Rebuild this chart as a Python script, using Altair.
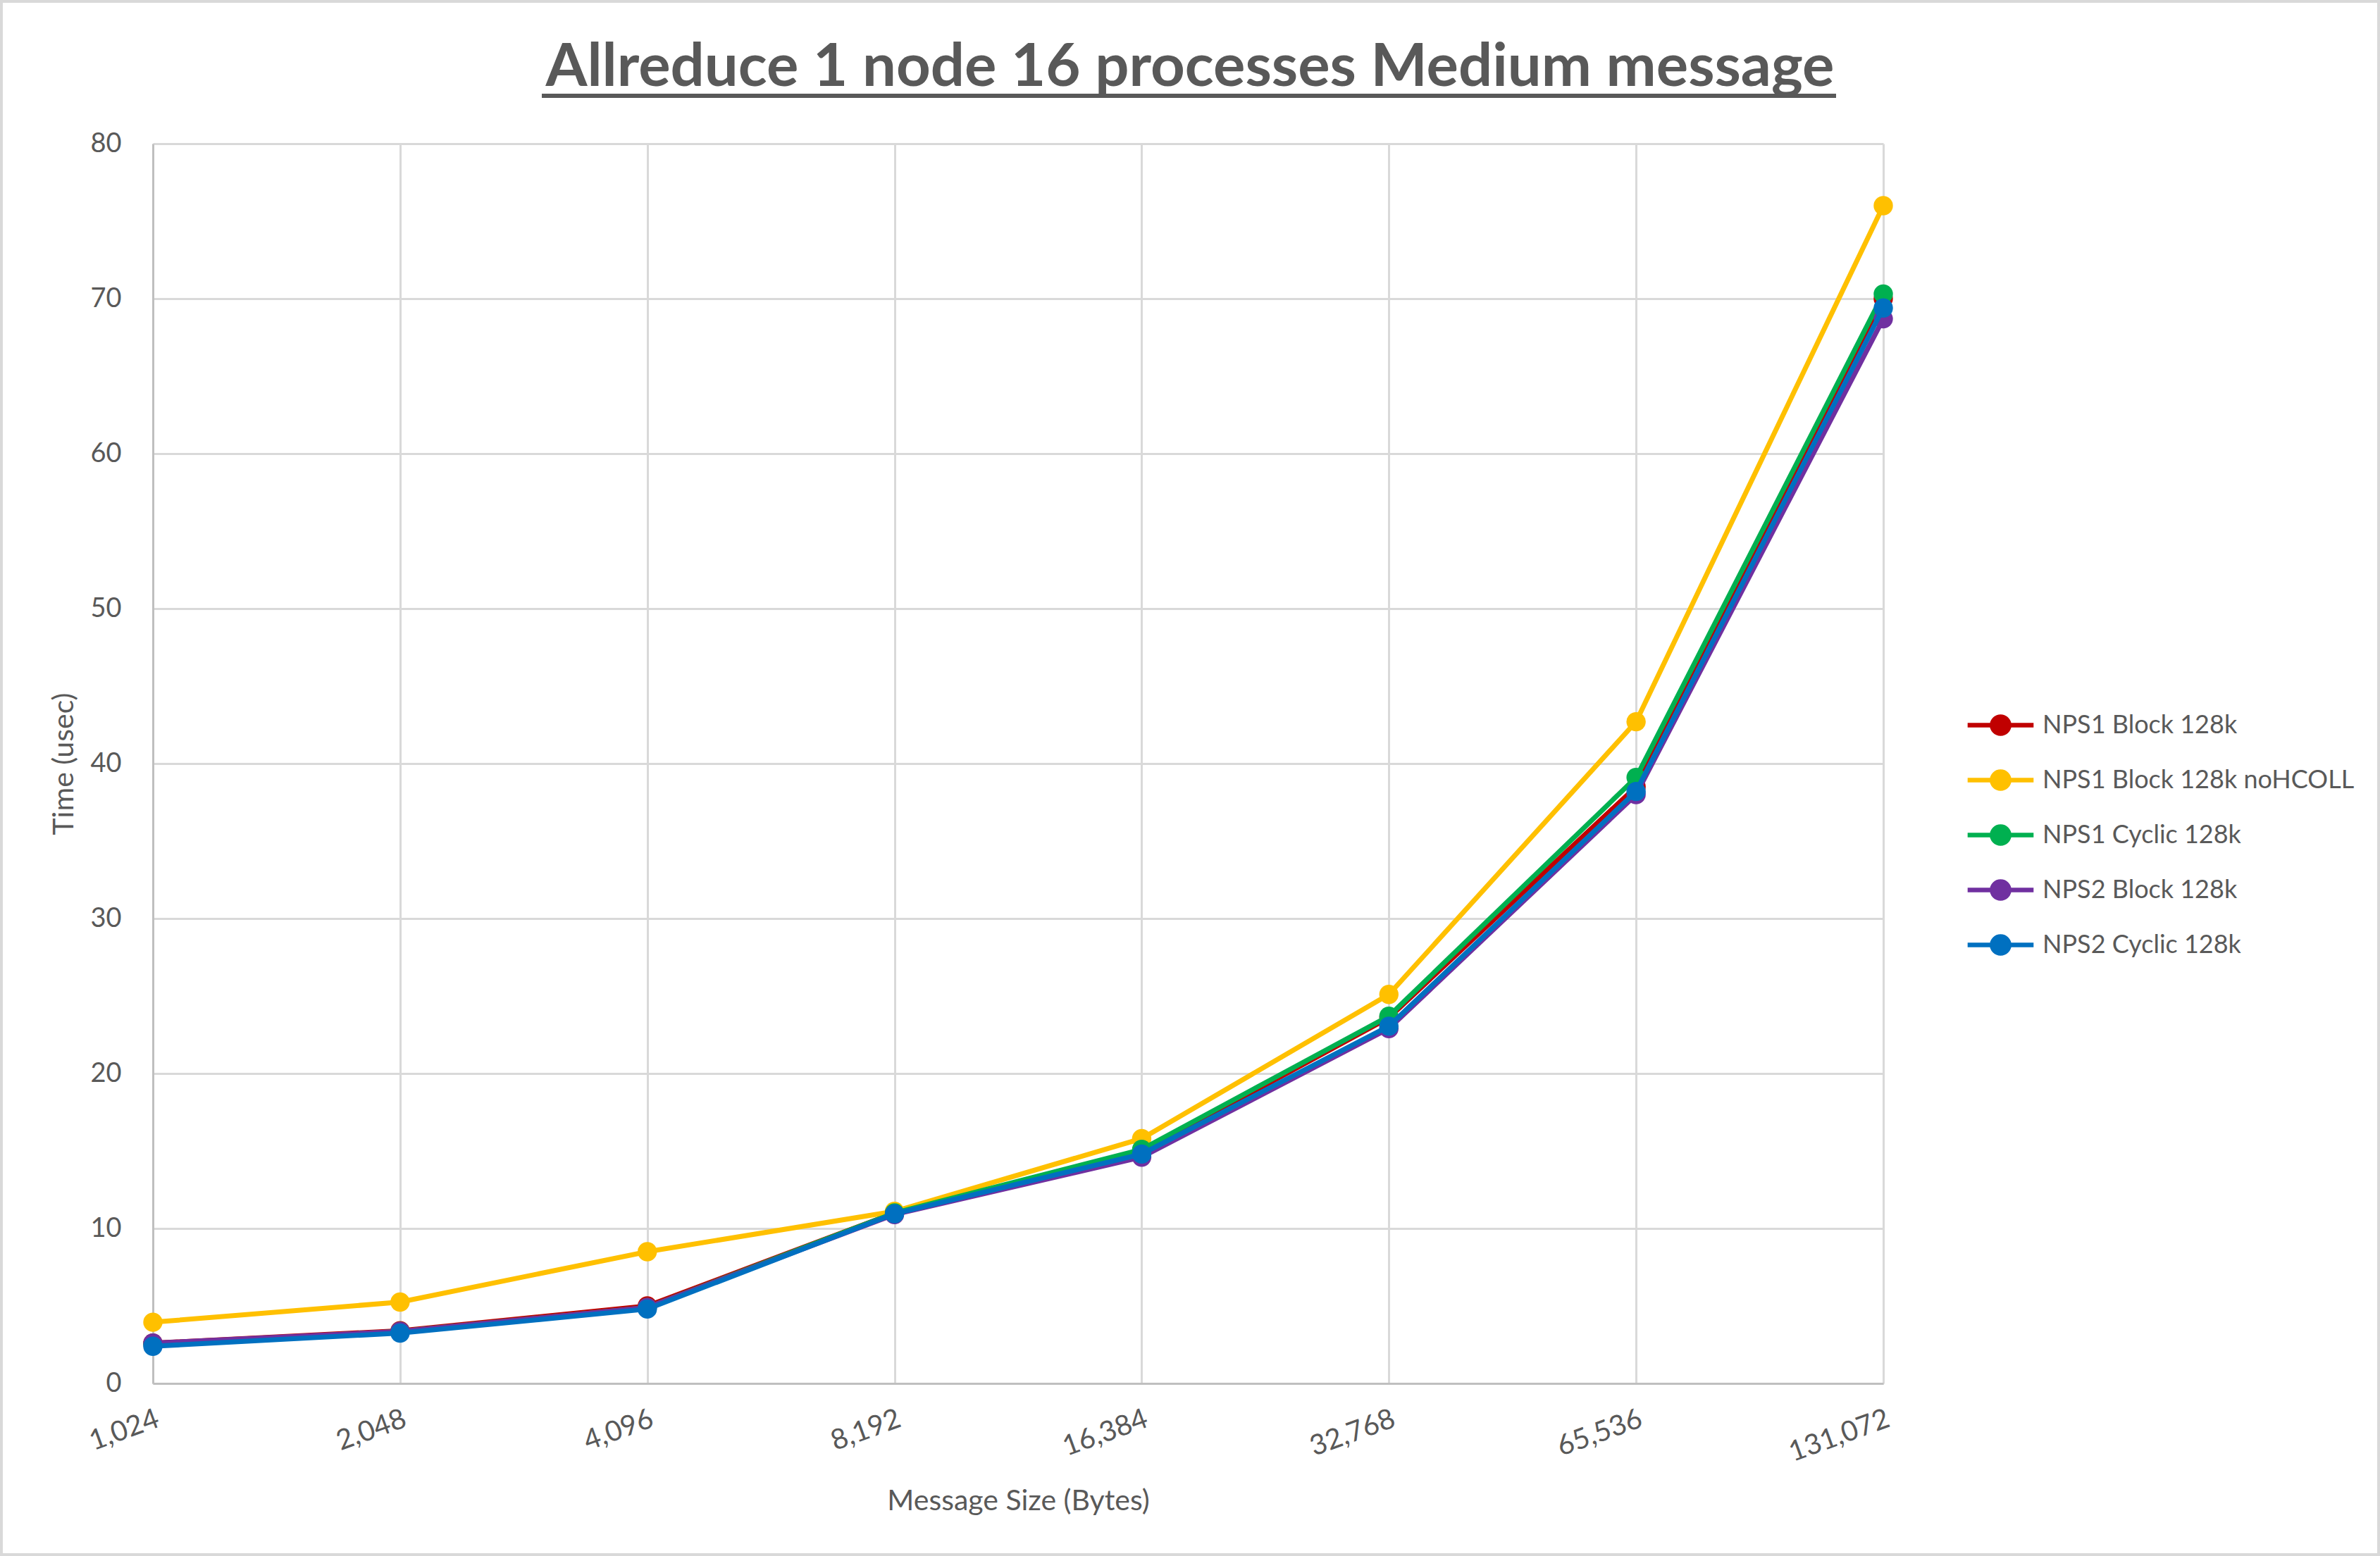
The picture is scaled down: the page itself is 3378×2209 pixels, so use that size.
import altair as alt
import pandas as pd

sizes = ["1,024", "2,048", "4,096", "8,192", "16,384", "32,768", "65,536", "131,072"]
series_names = [
    "NPS1 Block 128k",
    "NPS1 Block 128k noHCOLL",
    "NPS1 Cyclic 128k",
    "NPS2 Block 128k",
    "NPS2 Cyclic 128k",
]
colors = ["#C00000", "#FFC000", "#00B050", "#7030A0", "#0070C0"]

nps1_block = [2.6, 3.4, 5.0, 11.0, 14.9, 23.6, 38.5, 70.0]
nps1_block_nohcoll = [3.95, 5.25, 8.5, 11.1, 15.8, 25.1, 42.7, 76.0]
nps1_cyclic = [2.55, 3.35, 4.9, 11.0, 15.1, 23.7, 39.1, 70.3]
nps2_block = [2.6, 3.35, 4.9, 10.9, 14.6, 22.9, 38.0, 68.7]
nps2_cyclic = [2.4, 3.25, 4.8, 10.95, 14.8, 23.05, 38.2, 69.4]

y_ticks = [0, 10, 20, 30, 40, 50, 60, 70, 80]

title_text = "Allreduce 1 node 16 processes Medium message"
x_title = "Message Size (Bytes)"
y_title = "Time (usec)"

series_values = [nps1_block, nps1_block_nohcoll, nps1_cyclic, nps2_block, nps2_cyclic]
rows = []
for name, vals in zip(series_names, series_values):
    for s, v in zip(sizes, vals):
        rows.append({"size": s, "series": name, "time": v})
df = pd.DataFrame(rows)

FONT = "Lato"
TEXT = "#595959"

W, H = 2456, 1760
LEFT, TOP = 217, 204
TOTAL_W, TOTAL_H = 3378, 2209

color_scale = alt.Scale(domain=series_names, range=colors)
legend_path = "M-1.2,0L1.2,0M0.31,0A0.31,0.31,0,1,1,-0.31,0A0.31,0.31,0,1,1,0.31,0Z"
legend = alt.Legend(
    title=None,
    orient="none",
    legendX=2580,
    legendY=783,
    symbolType=legend_path,
    symbolSize=78 * 78,
    symbolStrokeWidth=6.5,
    labelFont=FONT,
    labelFontSize=36,
    labelColor=TEXT,
    labelOffset=17,
    rowPadding=10,
    padding=0,
    labelLimit=600,
)

x_enc = alt.X(
    "size:O",
    sort=sizes,
    scale=alt.Scale(type="point", padding=0),
    axis=alt.Axis(
        title=x_title,
        labelAngle=340,
        labelAlign="right",
        labelBaseline="top",
        labelPadding=30,
        labelFontSize=40,
        grid=True,
        ticks=False,
        titleY=179,
        titleBaseline="alphabetic",
    ),
)
y_enc = alt.Y(
    "time:Q",
    scale=alt.Scale(domain=[0, 80], nice=False),
    axis=alt.Axis(
        title=y_title,
        values=y_ticks,
        grid=True,
        ticks=False,
        labelPadding=45,
        titleX=-114,
        titleBaseline="alphabetic",
    ),
)

layers = []
for name in series_names:
    base = alt.Chart(df).transform_filter(alt.datum.series == name)
    line = base.mark_line(strokeWidth=7).encode(
        x=x_enc,
        y=y_enc,
        stroke=alt.Stroke("series:N", scale=color_scale, sort=series_names, legend=legend),
    )
    pts = base.mark_point(filled=True, size=750, opacity=1).encode(
        x=x_enc,
        y=y_enc,
        fill=alt.Fill("series:N", scale=color_scale, sort=series_names, legend=legend),
    )
    layers += [line, pts]

deco = alt.Chart(pd.DataFrame({"k": [0]}))
underline = deco.mark_rule(color=TEXT, strokeWidth=6).encode(
    x=alt.value(769 - LEFT), x2=alt.value(2606 - LEFT), y=alt.value(136 - TOP)
)
border = deco.mark_rect(fill=None, stroke="#D9D9D9", strokeWidth=4).encode(
    x=alt.value(-LEFT + 2),
    x2=alt.value(TOTAL_W - LEFT - 2),
    y=alt.value(-TOP + 2),
    y2=alt.value(TOTAL_H - TOP - 2),
)

chart = (
    alt.layer(*layers, underline, border)
    .properties(
        width=W,
        height=H,
        autosize=alt.AutoSizeParams(type="none"),
        padding={"left": LEFT, "top": TOP, "right": TOTAL_W - LEFT - W, "bottom": TOTAL_H - TOP - H},
        title=alt.TitleParams(
            text=title_text,
            font=FONT,
            fontSize=85,
            fontWeight="bold",
            color=TEXT,
            anchor="middle",
            frame="bounds",
            offset=-140,
        ),
        background="white",
    )
    .configure_view(stroke=None)
    .configure_axis(
        labelFont=FONT,
        labelFontSize=38,
        labelColor=TEXT,
        titleFont=FONT,
        titleFontSize=41,
        titleFontWeight="normal",
        titleColor=TEXT,
        domainColor="#BFBFBF",
        domainWidth=3,
        gridColor="#D9D9D9",
        gridWidth=3,
    )
)

chart.save("out.html", embed_options={"renderer": "svg", "actions": False})
